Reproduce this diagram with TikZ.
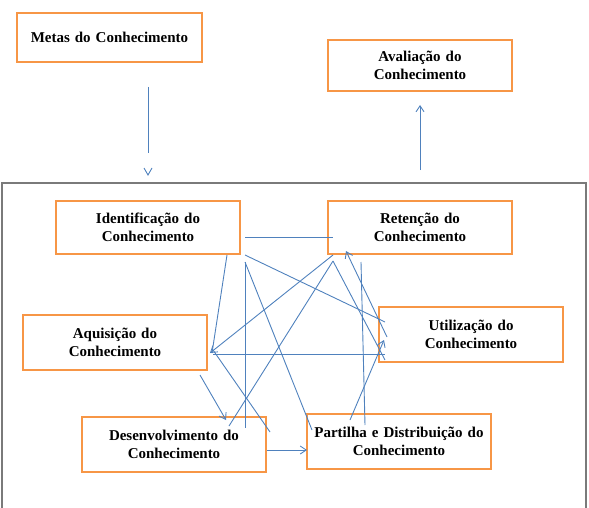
\documentclass[tikz,border=0pt]{standalone}
\usepackage{fontspec}
\setmainfont{Liberation Serif}
\usetikzlibrary{arrows.meta,calc}
\definecolor{boxorange}{HTML}{F79646}
\definecolor{linkblue}{HTML}{4F81BD}
\definecolor{framegray}{HTML}{7A7A7A}
\begin{document}
\begin{tikzpicture}[x=1pt,y=-1pt,
  kbox/.style={draw=boxorange,line width=2.6pt,minimum width=184pt,minimum height=52pt,
    inner sep=0pt,outer sep=0pt,align=center,text width=182pt,
    font=\fontsize{15}{18}\selectfont\bfseries},
  link/.style={draw=linkblue,line width=0.9pt},
  tip/.style={link,-{Straight Barb[length=6pt,width=8pt]}}]
\useasboundingbox (0,0) rectangle (589,508);
\clip (0,0) rectangle (589,508);
% outer frame
\node[draw=framegray,line width=1.2pt,minimum width=584pt,minimum height=347pt,
  inner sep=0pt,outer sep=0pt] (frame) at (294,356.5) {};
% boxes
\node[kbox,minimum width=185pt,minimum height=49pt] (metas) at (109.5,37.5) {Metas do Conhecimento};
\node[kbox,minimum height=51pt] (aval) at (420,65.5) {Avaliação do\\Conhecimento};
\node[kbox,minimum height=53pt] (ident) at (148,227.5) {Identificação do\\Conhecimento};
\node[kbox,minimum height=53pt] (ret) at (420,227.5) {Retenção do\\Conhecimento};
\node[kbox,minimum height=55pt] (aquis) at (115,342.5) {Aquisição do\\Conhecimento};
\node[kbox,minimum height=55pt] (util) at (471,334.5) {Utilização do\\Conhecimento};
\node[kbox,minimum height=55pt] (desenv) at (174,444.5) {Desenvolvimento do\\Conhecimento};
\node[kbox,minimum height=55pt] (part) at (399,441.5) {Partilha e Distribuição do\\Conhecimento};
% top connectors
\coordinate (metasend) at ($(metas.south)+(38.5,113)$);
\draw[link] ($(metas.south)+(38.5,25)$) -- ($(metasend)+(0,-22)$);
\draw[link] ($(metasend)+(-4,-7)$) -- (metasend) -- ($(metasend)+(4,-7)$);
\draw[tip] ($(frame.north)+(126,-13)$) -- ($(aval.south)+(0,14)$);
% inner web
\draw[link] ($(ident.east)+(5,9.5)$) -- ($(ret.west)+(5,9.5)$);
\draw[link] ($(ident.south east)+(-13,1)$) -- ($(aquis.east)+(5,10.5)$);
\draw[link] ($(ident.south east)+(5,1)$) -- ($(util.west)+(6,-12.5)$);
\draw[link] ($(ident.south east)+(5,8)$) -- ($(desenv.north east)+(-21,11)$);
\draw[link] ($(ident.south east)+(5,8)$) -- ($(part.north west)+(5,16)$);
\draw[tip] ($(ret.south west)+(5,1)$) -- ($(aquis.east)+(3,10.5)$);
\draw[link] ($(ret.south west)+(5,7)$) -- ($(desenv.north east)+(-37,9)$);
\draw[link] ($(ret.south west)+(5,7)$) -- ($(util.south west)+(6,-2)$);
\draw[tip] ($(util.west)+(8,2.5)$) -- ($(ret.south west)+(18,-3)$);
\draw[link] ($(ret.south west)+(33,8)$) -- ($(part.north west)+(58,11)$);
\draw[link] ($(aquis.east)+(6,11.5)$) -- ($(util.south west)+(6,-8)$);
\draw[link] ($(aquis.east)+(6,7.5)$) -- ($(desenv.north east)+(4,15)$);
\draw[tip] ($(aquis.south east)+(-7,5)$) -- ($(desenv.north east)+(-40,3)$);
\draw[tip] ($(desenv.east)+(1,5.5)$) -- ($(part.west)+(0,8.5)$);
\draw[tip] ($(part.north west)+(43,6)$) -- ($(util.west)+(5,5.5)$);
\end{tikzpicture}
\end{document}
